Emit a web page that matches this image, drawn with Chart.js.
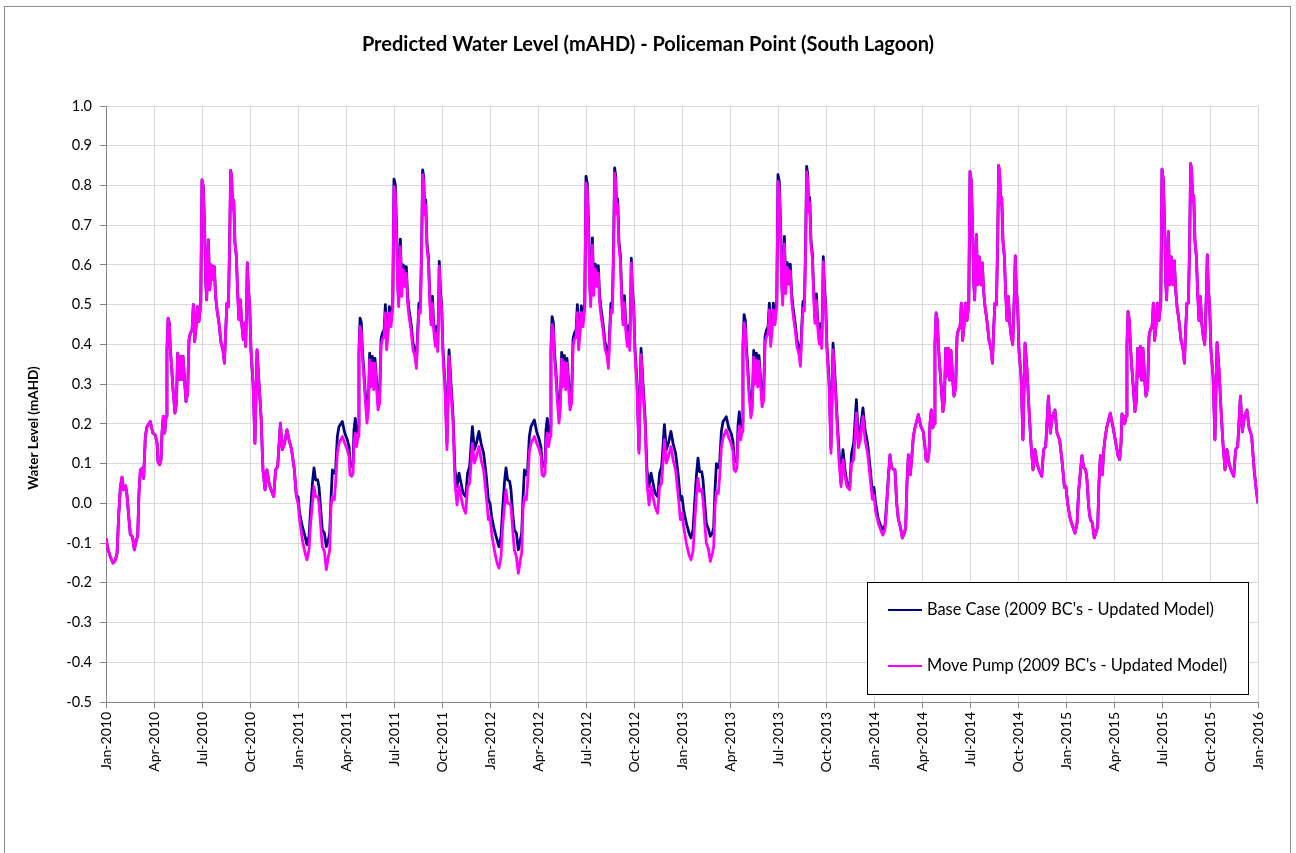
<!DOCTYPE html>
<html>
<head>
<meta charset="utf-8">
<script src="https://cdn.jsdelivr.net/npm/chart.js@4.4.1/dist/chart.umd.min.js"></script>
<style>
  html, body { margin: 0; padding: 0; background: #ffffff; }
  #wrap { position: relative; width: 1296px; height: 853px; overflow: hidden; }
  #frame { position: absolute; left: 4px; top: 6px; width: 1287px; height: 870px; border: 1px solid #8c8c8c; box-sizing: border-box; }
  #c { position: absolute; left: 0; top: 0; }
</style>
</head>
<body>
<div id="wrap">
  <div id="frame"></div>
  <canvas id="c" width="1296" height="853"></canvas>
</div>
<script>
// ---------------- DATA ----------------
const chartTitle = 'Predicted Water Level (mAHD) - Policeman Point (South Lagoon)';
const yAxisTitle = 'Water Level (mAHD)';
const seriesNames = ["Base Case (2009 BC's - Updated Model)", "Move Pump (2009 BC's - Updated Model)"];
const tickLabels = ['Jan-2010','Apr-2010','Jul-2010','Oct-2010','Jan-2011','Apr-2011','Jul-2011','Oct-2011',
  'Jan-2012','Apr-2012','Jul-2012','Oct-2012','Jan-2013','Apr-2013','Jul-2013','Oct-2013',
  'Jan-2014','Apr-2014','Jul-2014','Oct-2014','Jan-2015','Apr-2015','Jul-2015','Oct-2015','Jan-2016'];
const years = [2010, 2011, 2012, 2013, 2014, 2015];

// sample positions within each year, in months after 1 January
const sampleMonths = [
  0.00,0.10,0.27,0.44,0.56,0.69,0.79,0.90,1.00,1.10,
  1.23,1.31,1.42,1.52,1.65,1.77,1.90,1.98,2.06,2.15,
  2.27,2.35,2.46,2.56,2.77,2.92,3.08,3.19,3.25,3.35,
  3.44,3.50,3.58,3.67,3.75,3.81,3.88,3.96,4.02,4.10,
  4.19,4.31,4.40,4.48,4.56,4.65,4.73,4.81,4.92,5.00,
  5.10,5.19,5.27,5.38,5.46,5.54,5.63,5.71,5.81,5.92,
  6.00,6.08,6.17,6.23,6.29,6.40,6.48,6.58,6.69,6.77,
  6.85,6.94,7.06,7.19,7.31,7.40,7.48,7.56,7.65,7.73,
  7.79,7.85,7.92,7.98,8.06,8.15,8.23,8.31,8.40,8.48,
  8.58,8.67,8.73,8.79,8.83,8.90,8.98,9.06,9.19,9.31,
  9.44,9.56,9.69,9.81,9.94,10.06,10.19,10.31,10.48,10.60,
  10.73,10.90,11.02,11.15,11.31,11.44,11.60,11.77,11.90];

const baseCase2010 = [
  -0.088,-0.112,-0.135,-0.150,-0.145,-0.127,-0.033,0.042,0.066,0.034,
  0.044,0.021,-0.033,-0.079,-0.083,-0.117,-0.092,-0.083,0.026,0.084,
  0.089,0.063,0.168,0.193,0.206,0.177,0.172,0.152,0.105,0.097,
  0.110,0.177,0.219,0.177,0.219,0.386,0.466,0.453,0.386,0.344,
  0.286,0.227,0.252,0.378,0.311,0.370,0.311,0.370,0.303,0.256,
  0.277,0.412,0.428,0.437,0.500,0.407,0.445,0.495,0.458,0.504,
  0.814,0.797,0.680,0.563,0.512,0.663,0.537,0.600,0.563,0.596,
  0.521,0.487,0.454,0.403,0.386,0.353,0.433,0.504,0.495,0.655,
  0.838,0.823,0.739,0.764,0.655,0.621,0.529,0.462,0.512,0.454,
  0.412,0.454,0.395,0.504,0.605,0.537,0.495,0.386,0.303,0.151,
  0.386,0.303,0.219,0.084,0.034,0.084,0.051,0.034,0.017,0.084,
  0.093,0.202,0.135,0.150,0.185,0.160,0.135,0.085,0.017];
const movePump2010 = [
  -0.088,-0.112,-0.135,-0.150,-0.145,-0.127,-0.033,0.042,0.066,0.034,
  0.044,0.021,-0.033,-0.079,-0.083,-0.117,-0.092,-0.083,0.026,0.084,
  0.089,0.063,0.168,0.193,0.206,0.177,0.172,0.152,0.105,0.097,
  0.110,0.177,0.219,0.177,0.219,0.386,0.466,0.453,0.386,0.344,
  0.286,0.227,0.252,0.378,0.311,0.370,0.311,0.370,0.303,0.256,
  0.277,0.412,0.428,0.437,0.500,0.407,0.445,0.495,0.458,0.504,
  0.814,0.797,0.680,0.563,0.512,0.663,0.537,0.600,0.563,0.596,
  0.521,0.487,0.454,0.403,0.386,0.353,0.433,0.504,0.495,0.655,
  0.838,0.823,0.739,0.764,0.655,0.621,0.529,0.462,0.512,0.454,
  0.412,0.454,0.395,0.504,0.605,0.537,0.495,0.386,0.303,0.151,
  0.386,0.303,0.219,0.084,0.034,0.084,0.051,0.034,0.017,0.084,
  0.093,0.202,0.135,0.150,0.185,0.160,0.135,0.085,0.017];

const baseCase2011 = [
  0.017,-0.025,-0.058,-0.083,-0.104,-0.083,-0.016,0.051,0.089,0.059,
  0.059,0.042,-0.016,-0.067,-0.075,-0.109,-0.092,-0.075,0.009,0.084,
  0.076,0.084,0.168,0.193,0.206,0.177,0.160,0.143,0.101,0.093,
  0.101,0.185,0.214,0.177,0.193,0.386,0.466,0.454,0.386,0.344,
  0.286,0.227,0.252,0.378,0.311,0.370,0.303,0.365,0.303,0.252,
  0.269,0.412,0.428,0.437,0.500,0.407,0.445,0.495,0.458,0.504,
  0.816,0.802,0.680,0.563,0.504,0.665,0.537,0.600,0.563,0.596,
  0.521,0.487,0.454,0.403,0.386,0.353,0.433,0.504,0.495,0.655,
  0.839,0.823,0.739,0.764,0.655,0.621,0.529,0.462,0.521,0.454,
  0.412,0.445,0.395,0.504,0.609,0.537,0.495,0.386,0.303,0.151,
  0.386,0.303,0.219,0.084,0.042,0.076,0.051,0.026,0.017,0.076,
  0.093,0.193,0.135,0.151,0.181,0.151,0.126,0.068,0.009];
const movePump2011 = [
  0.000,-0.041,-0.092,-0.125,-0.142,-0.117,-0.050,0.000,0.042,0.017,
  0.017,0.000,-0.058,-0.109,-0.121,-0.167,-0.134,-0.117,-0.008,0.017,
  0.009,0.051,0.126,0.151,0.168,0.151,0.135,0.118,0.072,0.068,
  0.076,0.151,0.177,0.143,0.168,0.370,0.445,0.433,0.370,0.328,
  0.269,0.202,0.235,0.361,0.294,0.353,0.286,0.353,0.286,0.235,
  0.252,0.395,0.412,0.420,0.479,0.386,0.428,0.479,0.445,0.491,
  0.797,0.781,0.663,0.546,0.495,0.646,0.521,0.588,0.546,0.579,
  0.504,0.470,0.437,0.386,0.370,0.340,0.420,0.487,0.479,0.638,
  0.827,0.810,0.726,0.751,0.642,0.609,0.516,0.449,0.504,0.437,
  0.395,0.428,0.382,0.491,0.596,0.525,0.483,0.374,0.286,0.135,
  0.370,0.286,0.202,0.051,-0.004,0.042,0.017,-0.008,-0.025,0.042,
  0.051,0.151,0.101,0.118,0.143,0.110,0.084,0.017,-0.041];

const baseCase2012 = [
  0.000,-0.033,-0.067,-0.092,-0.109,-0.083,-0.016,0.051,0.089,0.059,
  0.055,0.034,-0.025,-0.067,-0.075,-0.117,-0.092,-0.075,0.009,0.084,
  0.072,0.084,0.168,0.193,0.210,0.180,0.160,0.140,0.101,0.093,
  0.105,0.185,0.214,0.177,0.193,0.390,0.470,0.455,0.386,0.344,
  0.286,0.227,0.255,0.380,0.311,0.372,0.303,0.365,0.303,0.252,
  0.270,0.412,0.428,0.437,0.500,0.407,0.447,0.497,0.458,0.504,
  0.823,0.805,0.685,0.565,0.505,0.668,0.540,0.602,0.563,0.598,
  0.523,0.490,0.454,0.405,0.388,0.355,0.435,0.504,0.497,0.660,
  0.844,0.826,0.742,0.766,0.658,0.623,0.530,0.462,0.523,0.455,
  0.412,0.447,0.398,0.505,0.617,0.540,0.497,0.390,0.305,0.135,
  0.390,0.303,0.219,0.084,0.042,0.076,0.051,0.026,0.017,0.076,
  0.093,0.198,0.135,0.151,0.181,0.151,0.126,0.068,0.009];
const movePump2012 = [
  -0.033,-0.075,-0.117,-0.150,-0.163,-0.134,-0.058,-0.008,0.034,0.000,
  0.000,-0.008,-0.067,-0.117,-0.134,-0.176,-0.142,-0.125,-0.016,0.017,
  0.009,0.051,0.130,0.151,0.168,0.151,0.135,0.118,0.072,0.068,
  0.076,0.151,0.177,0.143,0.168,0.372,0.450,0.435,0.370,0.328,
  0.269,0.202,0.238,0.363,0.294,0.355,0.286,0.353,0.286,0.235,
  0.252,0.395,0.412,0.420,0.480,0.386,0.430,0.480,0.445,0.491,
  0.806,0.786,0.668,0.548,0.495,0.650,0.523,0.590,0.546,0.580,
  0.505,0.472,0.437,0.388,0.372,0.340,0.420,0.487,0.480,0.642,
  0.831,0.812,0.728,0.753,0.644,0.610,0.516,0.449,0.505,0.438,
  0.395,0.430,0.385,0.491,0.605,0.527,0.485,0.376,0.288,0.126,
  0.374,0.286,0.202,0.051,-0.004,0.042,0.017,-0.008,-0.025,0.042,
  0.051,0.160,0.101,0.118,0.143,0.110,0.084,0.017,-0.041];

const baseCase2013 = [
  0.017,-0.016,-0.050,-0.075,-0.087,-0.067,0.000,0.070,0.114,0.080,
  0.080,0.060,0.000,-0.050,-0.065,-0.083,-0.075,-0.060,0.030,0.100,
  0.090,0.100,0.180,0.205,0.218,0.190,0.175,0.155,0.115,0.105,
  0.115,0.195,0.230,0.190,0.205,0.400,0.475,0.460,0.395,0.350,
  0.290,0.235,0.260,0.385,0.318,0.378,0.310,0.372,0.310,0.260,
  0.276,0.420,0.435,0.445,0.504,0.412,0.452,0.504,0.465,0.508,
  0.827,0.810,0.690,0.570,0.508,0.672,0.545,0.606,0.568,0.602,
  0.528,0.493,0.458,0.410,0.392,0.358,0.440,0.508,0.500,0.662,
  0.848,0.830,0.746,0.770,0.662,0.628,0.535,0.466,0.527,0.460,
  0.418,0.452,0.403,0.510,0.621,0.545,0.500,0.395,0.315,0.139,
  0.403,0.320,0.219,0.135,0.051,0.135,0.084,0.051,0.042,0.126,
  0.151,0.261,0.160,0.185,0.240,0.185,0.151,0.084,0.025];
const movePump2013 = [
  -0.025,-0.058,-0.100,-0.130,-0.142,-0.120,-0.050,0.020,0.063,0.030,
  0.035,0.010,-0.050,-0.100,-0.115,-0.146,-0.125,-0.110,-0.010,0.030,
  0.025,0.065,0.140,0.165,0.185,0.165,0.150,0.130,0.085,0.080,
  0.090,0.165,0.195,0.160,0.180,0.385,0.455,0.440,0.378,0.334,
  0.273,0.215,0.243,0.368,0.300,0.360,0.293,0.358,0.293,0.243,
  0.259,0.403,0.418,0.428,0.487,0.395,0.435,0.487,0.450,0.495,
  0.810,0.790,0.673,0.553,0.499,0.653,0.528,0.594,0.551,0.585,
  0.511,0.476,0.441,0.393,0.376,0.345,0.425,0.491,0.484,0.645,
  0.835,0.817,0.733,0.757,0.649,0.615,0.522,0.453,0.510,0.443,
  0.401,0.435,0.390,0.497,0.608,0.532,0.488,0.382,0.298,0.126,
  0.386,0.303,0.202,0.110,0.042,0.110,0.068,0.042,0.034,0.100,
  0.110,0.227,0.140,0.160,0.219,0.160,0.126,0.060,0.010];

const baseCase2014 = [
  0.040,0.000,-0.040,-0.058,-0.065,-0.055,0.000,0.070,0.122,0.090,
  0.085,0.084,0.000,-0.040,-0.060,-0.087,-0.075,-0.060,0.050,0.122,
  0.072,0.110,0.168,0.190,0.223,0.195,0.180,0.140,0.110,0.105,
  0.130,0.200,0.235,0.190,0.200,0.400,0.479,0.460,0.400,0.350,
  0.300,0.231,0.260,0.390,0.320,0.390,0.310,0.385,0.310,0.270,
  0.290,0.420,0.437,0.445,0.504,0.410,0.450,0.504,0.460,0.500,
  0.835,0.810,0.680,0.560,0.512,0.676,0.550,0.620,0.550,0.605,
  0.535,0.495,0.460,0.410,0.390,0.353,0.440,0.504,0.500,0.655,
  0.850,0.835,0.755,0.770,0.660,0.620,0.530,0.460,0.520,0.455,
  0.420,0.400,0.470,0.550,0.623,0.537,0.490,0.386,0.320,0.160,
  0.403,0.340,0.235,0.151,0.084,0.135,0.101,0.084,0.068,0.135,
  0.143,0.270,0.177,0.219,0.235,0.177,0.160,0.100,0.040];
const movePump2014 = [
  0.020,-0.020,-0.050,-0.070,-0.080,-0.065,-0.010,0.065,0.122,0.090,
  0.085,0.084,0.000,-0.040,-0.060,-0.087,-0.075,-0.060,0.050,0.122,
  0.072,0.110,0.168,0.190,0.223,0.195,0.180,0.140,0.110,0.105,
  0.130,0.200,0.235,0.190,0.200,0.400,0.479,0.460,0.400,0.350,
  0.300,0.231,0.260,0.390,0.320,0.390,0.310,0.385,0.310,0.270,
  0.290,0.420,0.437,0.445,0.504,0.410,0.450,0.504,0.460,0.500,
  0.835,0.810,0.680,0.560,0.512,0.676,0.550,0.620,0.550,0.605,
  0.535,0.495,0.460,0.410,0.390,0.353,0.440,0.504,0.500,0.655,
  0.850,0.835,0.755,0.770,0.660,0.620,0.530,0.460,0.520,0.455,
  0.420,0.400,0.470,0.550,0.623,0.537,0.490,0.386,0.320,0.160,
  0.403,0.340,0.235,0.151,0.084,0.135,0.101,0.084,0.068,0.135,
  0.143,0.270,0.177,0.219,0.235,0.177,0.160,0.100,0.040];

const baseCase2015 = [
  0.042,0.000,-0.040,-0.060,-0.075,-0.050,0.030,0.080,0.120,0.090,
  0.085,0.060,-0.010,-0.040,-0.050,-0.087,-0.070,-0.060,0.050,0.120,
  0.072,0.130,0.170,0.193,0.227,0.195,0.160,0.135,0.120,0.110,
  0.151,0.225,0.220,0.200,0.219,0.400,0.483,0.460,0.400,0.350,
  0.300,0.231,0.260,0.390,0.320,0.395,0.310,0.390,0.310,0.270,
  0.290,0.420,0.437,0.445,0.504,0.410,0.450,0.504,0.460,0.505,
  0.841,0.815,0.690,0.560,0.512,0.684,0.550,0.620,0.550,0.610,
  0.540,0.495,0.460,0.410,0.390,0.353,0.440,0.504,0.504,0.655,
  0.855,0.840,0.760,0.775,0.660,0.620,0.530,0.460,0.520,0.455,
  0.420,0.400,0.470,0.550,0.625,0.537,0.490,0.386,0.320,0.160,
  0.405,0.340,0.235,0.151,0.084,0.135,0.101,0.084,0.068,0.135,
  0.143,0.270,0.180,0.219,0.235,0.190,0.170,0.080,0.030];
const movePump2015 = [
  0.042,0.000,-0.040,-0.060,-0.075,-0.050,0.030,0.080,0.120,0.090,
  0.085,0.060,-0.010,-0.040,-0.050,-0.087,-0.070,-0.060,0.050,0.120,
  0.072,0.130,0.170,0.193,0.227,0.195,0.160,0.135,0.120,0.110,
  0.151,0.225,0.220,0.200,0.219,0.400,0.483,0.460,0.400,0.350,
  0.300,0.231,0.260,0.390,0.320,0.395,0.310,0.390,0.310,0.270,
  0.290,0.420,0.437,0.445,0.504,0.410,0.450,0.504,0.460,0.505,
  0.841,0.815,0.690,0.560,0.512,0.684,0.550,0.620,0.550,0.610,
  0.540,0.495,0.460,0.410,0.390,0.353,0.440,0.504,0.504,0.655,
  0.855,0.840,0.760,0.775,0.660,0.620,0.530,0.460,0.520,0.455,
  0.420,0.400,0.470,0.550,0.625,0.537,0.490,0.386,0.320,0.160,
  0.405,0.340,0.235,0.151,0.084,0.135,0.101,0.084,0.068,0.135,
  0.143,0.270,0.180,0.219,0.235,0.190,0.170,0.080,0.030];

// closing value at 1 January 2016 (month 72)
const endMonth = 72;
const baseCaseEnd = 0.000;
const movePumpEnd = 0.000;

// ---------------- BUILD ----------------
const baseByYear = [baseCase2010, baseCase2011, baseCase2012, baseCase2013, baseCase2014, baseCase2015];
const moveByYear = [movePump2010, movePump2011, movePump2012, movePump2013, movePump2014, movePump2015];

function buildSeries(byYear, endValue) {
  const pts = [];
  byYear.forEach((vals, yi) => {
    if (vals.length !== sampleMonths.length) console.error('length mismatch', years[yi], vals.length);
    vals.forEach((v, i) => pts.push({ x: (years[yi] - years[0]) * 12 + sampleMonths[i], y: v }));
  });
  pts.push({ x: endMonth, y: endValue });
  return pts;
}

const FONT = "Lato, 'Open Sans', sans-serif";
const NAVY = '#000080';
const MAGENTA = '#ff00ff';
const AXIS = '#868686';
const GRID = '#d9d9d9';

// y-axis title and legend box drawn onto the canvas
const extras = {
  id: 'extras',
  afterDraw(chart) {
    const ctx = chart.ctx;
    const a = chart.chartArea;
    ctx.save();
    ctx.font = 'bold 13.5px ' + FONT;
    ctx.fillStyle = '#000000';
    ctx.textAlign = 'center';
    ctx.textBaseline = 'middle';
    ctx.translate(34, a.top + 322);
    ctx.rotate(-Math.PI / 2);
    ctx.fillText(yAxisTitle, 0, 0);
    ctx.restore();

    ctx.save();
    const w = 381, h = 112;
    const x0 = a.right - 10 - w, y0 = a.bottom - 8 - h;
    ctx.fillStyle = '#ffffff';
    ctx.fillRect(x0, y0, w, h);
    ctx.strokeStyle = '#000000';
    ctx.lineWidth = 1;
    ctx.strokeRect(x0 + 0.5, y0 + 0.5, w, h);
    const items = [[seriesNames[0], NAVY, 28], [seriesNames[1], MAGENTA, 84]];
    ctx.font = '16.4px ' + FONT;
    ctx.textBaseline = 'middle';
    ctx.textAlign = 'left';
    items.forEach(([label, col, dy]) => {
      ctx.strokeStyle = col;
      ctx.lineWidth = 2;
      ctx.beginPath();
      ctx.moveTo(x0 + 21, y0 + dy);
      ctx.lineTo(x0 + 55, y0 + dy);
      ctx.stroke();
      ctx.fillStyle = '#000000';
      ctx.fillText(label, x0 + 60, y0 + dy);
    });
    ctx.restore();
  }
};

new Chart(document.getElementById('c'), {
  type: 'line',
  data: {
    datasets: [
      { label: seriesNames[0], data: buildSeries(baseByYear, baseCaseEnd), borderColor: NAVY, order: 2 },
      { label: seriesNames[1], data: buildSeries(moveByYear, movePumpEnd), borderColor: MAGENTA, order: 1 }
    ]
  },
  options: {
    responsive: false,
    animation: false,
    devicePixelRatio: 1,
    parsing: false,
    normalized: true,
    layout: { padding: { left: 38, right: 38, top: 0, bottom: 0 } },
    elements: {
      point: { radius: 0, hoverRadius: 0 },
      line: { borderWidth: 2.8, tension: 0, fill: false, borderJoinStyle: 'round' }
    },
    plugins: {
      legend: { display: false },
      tooltip: { enabled: false },
      title: {
        display: true,
        text: chartTitle,
        color: '#000000',
        font: { family: FONT, size: 20, weight: 'bold', lineHeight: 1.2 },
        padding: { top: 33, bottom: 49 }
      }
    },
    scales: {
      x: {
        type: 'linear',
        min: 0,
        max: 72,
        afterFit(scale) { scale.height = 151; },
        afterBuildTicks(scale) {
          scale.ticks = tickLabels.map((_, i) => ({ value: i * 3 }));
        },
        ticks: {
          autoSkip: false,
          maxRotation: 90,
          minRotation: 90,
          padding: 4,
          color: '#000000',
          font: { family: FONT, size: 14 },
          callback: (v) => tickLabels[Math.round(v / 3)]
        },
        grid: { color: GRID, lineWidth: 1, tickColor: AXIS, tickLength: 6, drawTicks: true },
        border: { color: AXIS, width: 1 }
      },
      y: {
        min: -0.5,
        max: 1.0,
        afterFit(scale) { scale.width = 68; },
        ticks: {
          stepSize: 0.1,
          padding: 8,
          color: '#000000',
          font: { family: FONT, size: 14.5 },
          callback: (v) => (Math.abs(v) < 1e-9 ? 0 : v).toFixed(1)
        },
        grid: { color: GRID, lineWidth: 1, tickColor: AXIS, tickLength: 6 },
        border: { color: AXIS, width: 1 },
        title: { display: false }
      }
    }
  },
  plugins: [extras]
});
</script>
</body>
</html>
